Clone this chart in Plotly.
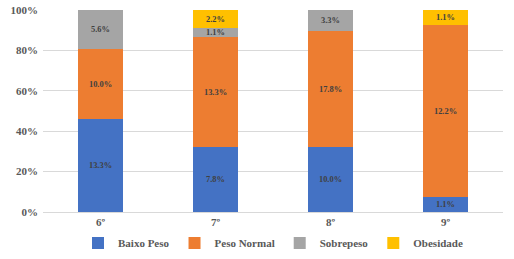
import plotly.graph_objects as go

categories = ["6º", "7º", "8º", "9º"]
baixo_peso = [13.3, 7.8, 10.0, 1.1]
peso_normal = [10.0, 13.3, 17.8, 12.2]
sobrepeso = [5.6, 1.1, 3.3, 0.0]
obesidade = [0.0, 2.2, 0.0, 1.1]
y_ticks = [0, 20, 40, 60, 80, 100]

series = [
    ("Baixo Peso", baixo_peso, "#4472C4"),
    ("Peso Normal", peso_normal, "#ED7D31"),
    ("Sobrepeso", sobrepeso, "#A5A5A5"),
    ("Obesidade", obesidade, "#FFC000"),
]

FONT = "Liberation Serif"

fig = go.Figure()
for name, vals, color in series:
    fig.add_trace(go.Bar(
        name=f"<b>{name}</b>", x=categories, y=vals,
        marker=dict(color=color, line=dict(width=0)),
        text=[f"<b>{v:.1f}%</b>" if v > 0 else "" for v in vals],
        textposition="inside", insidetextanchor="middle",
        textfont=dict(family=FONT, size=12.5, color="#404040"),
        textangle=0,
    ))

fig.update_layout(
    barmode="stack", barnorm="percent",
    width=514, height=259,
    margin=dict(l=43, r=11, t=10, b=47),
    paper_bgcolor="white", plot_bgcolor="white",
    bargap=0.61,
    uniformtext=dict(minsize=8, mode="show"),
    font=dict(family=FONT, size=11, color="#595959"),
    legend=dict(orientation="h", x=0.5, xanchor="center",
                y=0.062, yanchor="middle", yref="container",
                bgcolor="rgba(0,0,0,0)",
                font=dict(family=FONT, size=11, color="#595959"),
                traceorder="normal", itemwidth=30),
    xaxis=dict(showgrid=False, showline=True, linecolor="#D9D9D9", ticks="",
               automargin=False,
               tickvals=categories, ticktext=[f"<b>{c}</b>" for c in categories],
               tickfont=dict(family=FONT, size=11, color="#595959")),
    yaxis=dict(range=[0, 100], tickvals=y_ticks, ticktext=[f"<b>{t}%</b>" for t in y_ticks],
               automargin=False, ticklabelstandoff=4,
               showgrid=True, gridcolor="#D9D9D9", zeroline=False, showline=False,
               tickfont=dict(family=FONT, size=11, color="#595959")),
)

fig.write_html("out.html",
               config={"displayModeBar": False},
               post_script="document.body.style.margin='0';document.body.style.overflow='hidden';")
